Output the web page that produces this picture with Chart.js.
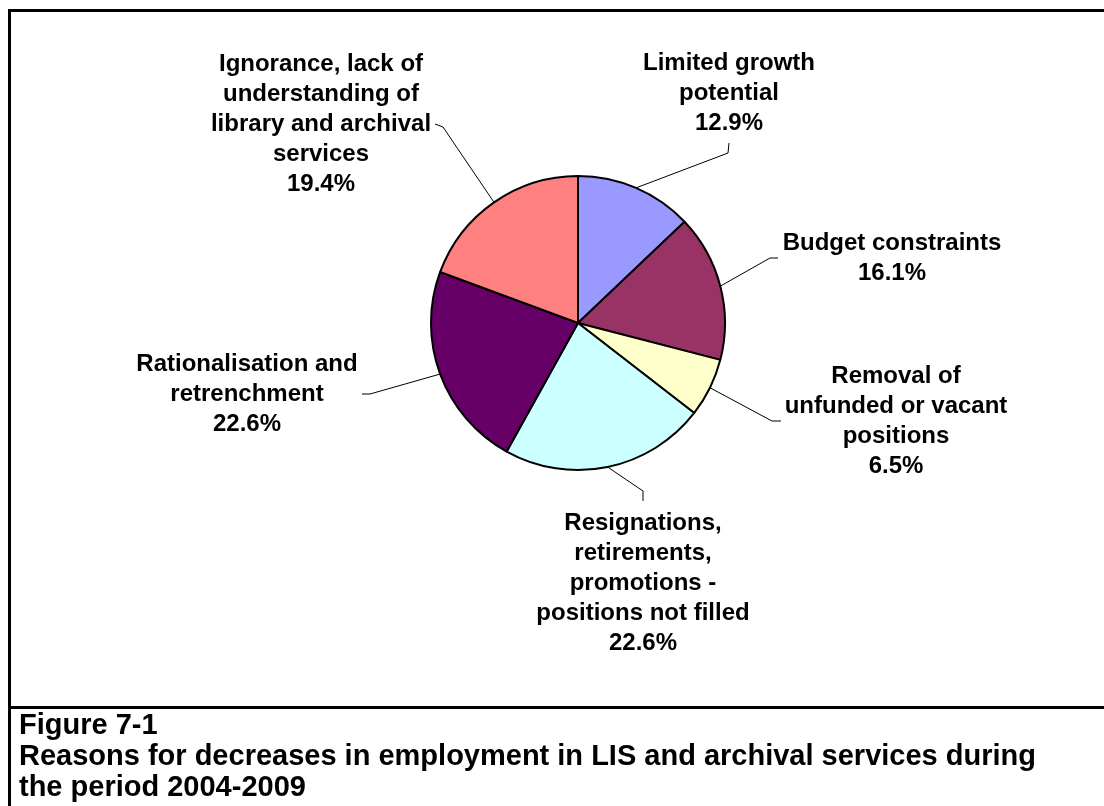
<!DOCTYPE html>
<html>
<head>
<meta charset="utf-8">
<script src="https://cdn.jsdelivr.net/npm/chart.js"></script>
<style>
  body { margin: 0; background: #fff; }
  #wrap { position: relative; width: 1104px; height: 806px; overflow: hidden; }
  #myChart { position: absolute; left: 0; top: 0; }
  #frame { position: absolute; left: 8px; top: 9px; width: 1096px; height: 797px;
           border-left: 3px solid #000; border-top: 3px solid #000; }
  #caption { position: absolute; left: 8px; top: 706px; width: 1096px; height: 100px;
             border-top: 3px solid #000; }
  #caption div { position: absolute; left: 11px; font: bold 29px "Liberation Sans", Arial, sans-serif;
                 line-height: 29px; color: #000; white-space: nowrap; }
</style>
</head>
<body>
<div id="wrap">
  <canvas id="myChart" width="1104" height="806"></canvas>
  <div id="frame"></div>
  <div id="caption">
    <div style="top:1px">Figure 7-1</div>
    <div style="top:32px">Reasons for decreases in employment in LIS and archival services during</div>
    <div style="top:63px">the period 2004-2009</div>
  </div>
</div>
<script>
/* PIE DATA */

// number of responses per reason (31 in total)
const categories = [
  ["Limited growth", "potential"],
  ["Budget constraints"],
  ["Removal of", "unfunded or vacant", "positions"],
  ["Resignations,", "retirements,", "promotions -", "positions not filled"],
  ["Rationalisation and", "retrenchment"],
  ["Ignorance, lack of", "understanding of", "library and archival", "services"]
];
const counts = [4, 5, 2, 7, 7, 6];
const percentLabels = ["12.9%", "16.1%", "6.5%", "22.6%", "22.6%", "19.4%"];
const sliceColors = ["#9999FF", "#993366", "#FFFFCC", "#CCFFFF", "#660066", "#FF8080"];

// where each label sits, relative to the pie centre: [elbow, end of leader, text centre]
const labelLayout = [
  [[150, -170], [151, -180], [151, -230]],
  [[192, -65], [200, -65], [314, -65]],
  [[194, 98], [203, 98], [318, 98]],
  [[65, 168], [65, 178], [65, 260]],
  [[-208, 71], [-216, 71], [-331, 71]],
  [[-135, -196], [-143, -199], [-257, -199]]
];

// draws the labels with leader lines like the excel chart
const leaderLabels = {
  id: "leaderLabels",
  afterDatasetsDraw: function (chart) {
    var ctx = chart.ctx;
    var arcs = chart.getDatasetMeta(0).data;
    ctx.save();
    for (var i = 0; i < arcs.length; i++) {
      var a = arcs[i];
      var mid = (a.startAngle + a.endAngle) / 2;
      var sx = a.x + Math.cos(mid) * a.outerRadius;
      var sy = a.y + Math.sin(mid) * a.outerRadius;
      var lay = labelLayout[i];
      ctx.strokeStyle = "#000";
      ctx.lineWidth = 1;
      ctx.beginPath();
      ctx.moveTo(sx, sy);
      ctx.lineTo(a.x + lay[0][0], a.y + lay[0][1]);
      ctx.lineTo(a.x + lay[1][0], a.y + lay[1][1]);
      ctx.stroke();

      var lines = categories[i].concat([percentLabels[i]]);
      var lh = 30;
      var tx = a.x + lay[2][0];
      var ty = a.y + lay[2][1] - (lines.length - 1) * lh / 2;
      ctx.fillStyle = "#000";
      ctx.font = "bold 24px 'Liberation Sans', Arial, sans-serif";
      ctx.textAlign = "center";
      ctx.textBaseline = "middle";
      for (var j = 0; j < lines.length; j++) {
        ctx.fillText(lines[j], tx, ty + j * lh);
      }
    }
    ctx.restore();
  }
};

new Chart("myChart", {
  type: "pie",
  data: {
    labels: categories.map(function (c) { return c.join(" "); }),
    datasets: [{
      data: counts,
      backgroundColor: sliceColors,
      borderColor: "#000",
      borderWidth: 2
    }]
  },
  options: {
    responsive: false,
    animation: false,
    events: [],
    layout: {
      padding: { left: 430, right: 378, top: 175, bottom: 335 }
    },
    plugins: {
      legend: { display: false },
      tooltip: { enabled: false },
      title: { display: false }
    }
  },
  plugins: [leaderLabels]
});
</script>
</body>
</html>
